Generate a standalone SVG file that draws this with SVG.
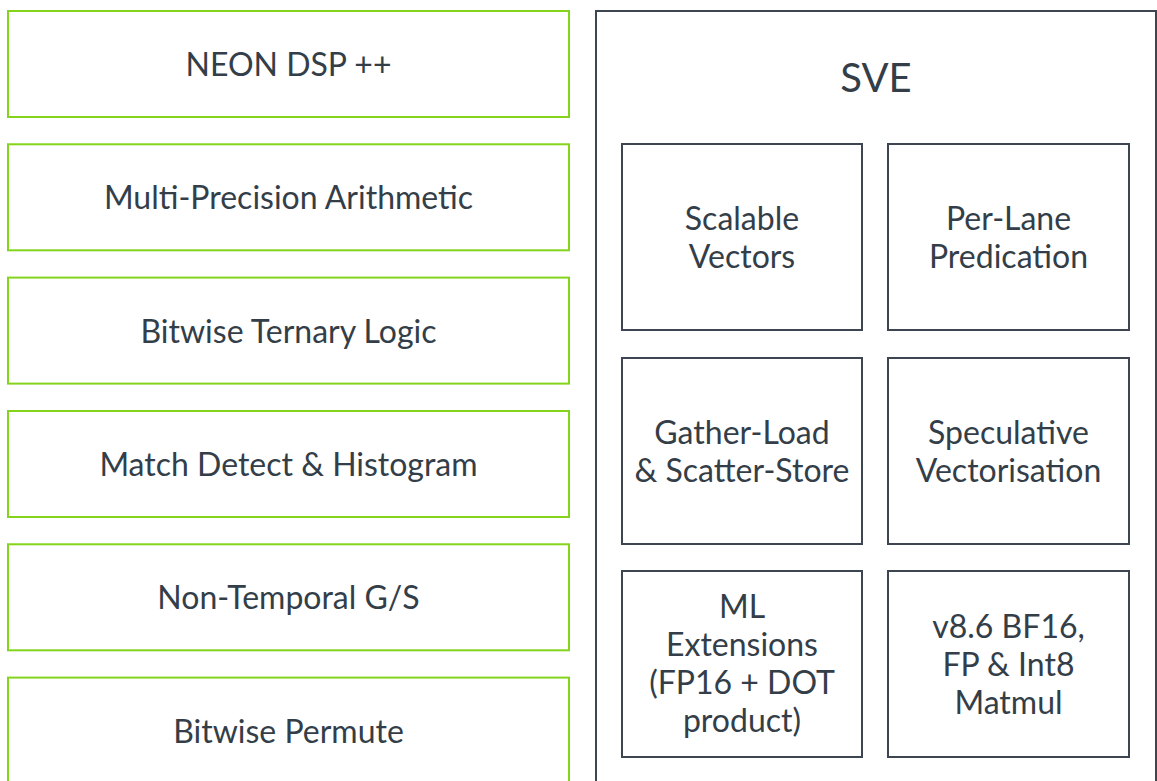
<svg xmlns="http://www.w3.org/2000/svg" width="1157" height="781" viewBox="0 0 1157 781">
  <style>
    .feat { fill: #ffffff; stroke: #84d41c; stroke-width: 2; }
    .sve  { fill: #ffffff; stroke: #3d4650; stroke-width: 2; }
    .box  { fill: #ffffff; stroke: #3d4650; stroke-width: 2; }
    text  { font-family: Lato, "Open Sans", sans-serif; fill: #333e48; text-anchor: middle; font-size: 32px; }
    .title { font-size: 40px; }
  </style>
  <rect width="1157" height="781" fill="#ffffff"/>

  <!-- Left column: NEON feature blocks -->
  <g id="neon-dsp">
    <rect class="feat" x="8" y="11" width="561" height="106"/>
    <text x="288.5" y="76">NEON DSP ++</text>
  </g>
  <g id="multi-precision">
    <rect class="feat" x="8" y="144.3" width="561" height="106"/>
    <text x="288.5" y="209.3">Multi-Precision Arithmetic</text>
  </g>
  <g id="ternary-logic">
    <rect class="feat" x="8" y="277.6" width="561" height="106"/>
    <text x="288.5" y="342.6">Bitwise Ternary Logic</text>
  </g>
  <g id="match-detect">
    <rect class="feat" x="8" y="411" width="561" height="106"/>
    <text x="288.5" y="476">Match Detect &amp; Histogram</text>
  </g>
  <g id="non-temporal">
    <rect class="feat" x="8" y="544.3" width="561" height="106"/>
    <text x="288.5" y="609.3">Non-Temporal G/S</text>
  </g>
  <g id="bitwise-permute">
    <rect class="feat" x="8" y="677.6" width="561" height="106"/>
    <text x="288.5" y="742.6">Bitwise Permute</text>
  </g>

  <!-- Right column: SVE container -->
  <g id="sve">
    <rect class="sve" x="596" y="11" width="560" height="800"/>
    <text class="title" x="876" y="92">SVE</text>
  </g>
  <g id="scalable-vectors">
    <rect class="box" x="622" y="144" width="240" height="186"/>
    <text x="742" y="230">Scalable</text>
    <text x="742" y="268">Vectors</text>
  </g>
  <g id="per-lane-predication">
    <rect class="box" x="888" y="144" width="241" height="186"/>
    <text x="1008.5" y="230">Per-Lane</text>
    <text x="1008.5" y="268">Predication</text>
  </g>
  <g id="gather-scatter">
    <rect class="box" x="622" y="358" width="240" height="186"/>
    <text x="742" y="444">Gather-Load</text>
    <text x="742" y="482">&amp; Scatter-Store</text>
  </g>
  <g id="speculative-vectorisation">
    <rect class="box" x="888" y="358" width="241" height="186"/>
    <text x="1008.5" y="444">Speculative</text>
    <text x="1008.5" y="482">Vectorisation</text>
  </g>
  <g id="ml-extensions">
    <rect class="box" x="622" y="571" width="240" height="186"/>
    <text x="742" y="618">ML</text>
    <text x="742" y="656">Extensions</text>
    <text x="742" y="694">(FP16 + DOT</text>
    <text x="742" y="732">product)</text>
  </g>
  <g id="matmul">
    <rect class="box" x="888" y="571" width="241" height="186"/>
    <text x="1008.5" y="638">v8.6 BF16,</text>
    <text x="1008.5" y="676">FP &amp; Int8</text>
    <text x="1008.5" y="714">Matmul</text>
  </g>

  <!-- no connectors in this diagram -->
  <g id="connectors"/>
</svg>
